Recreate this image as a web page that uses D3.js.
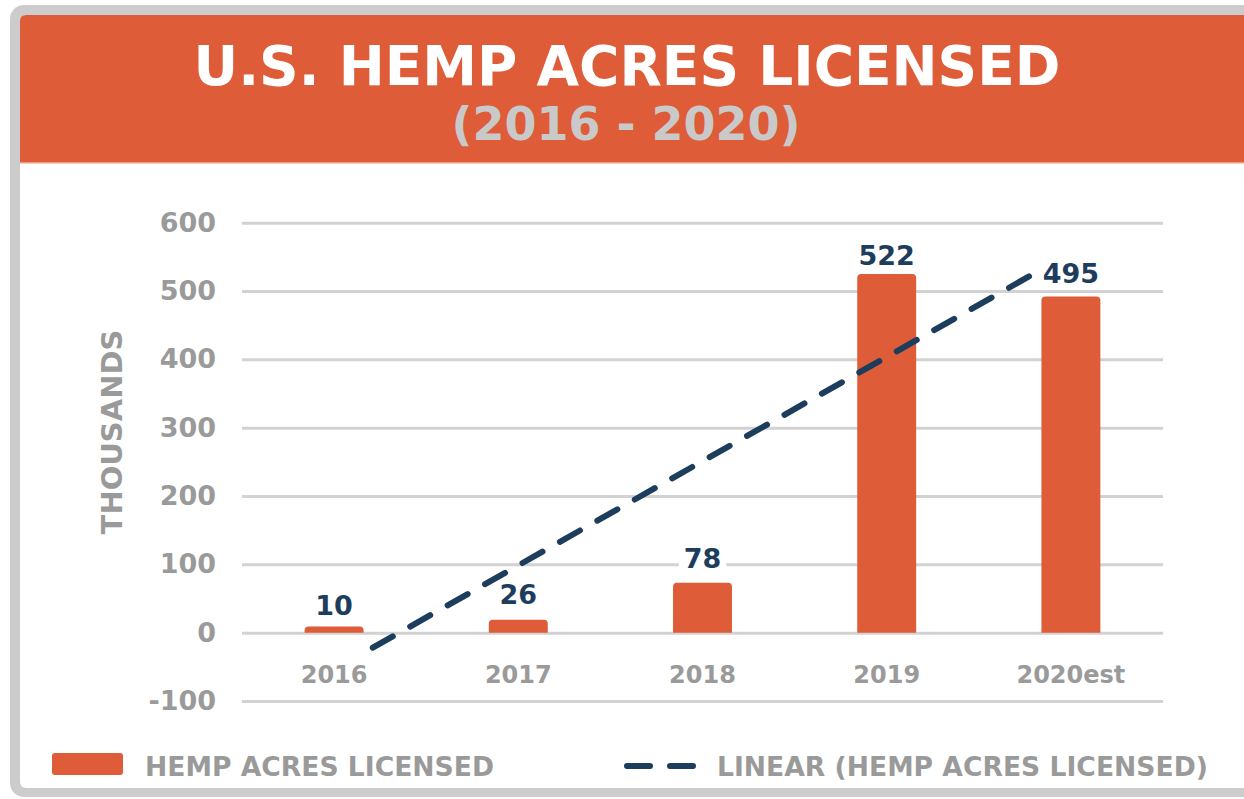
<!DOCTYPE html>
<html>
<head>
<meta charset="utf-8">
<script src="https://cdn.jsdelivr.net/npm/d3@7"></script>
<style>
  html, body { margin: 0; padding: 0; background: #ffffff; }
  svg { display: block; }
  text { font-family: "DejaVu Sans", sans-serif; font-weight: bold; }
</style>
</head>
<body>
<svg id="chart" width="1244" height="799"></svg>
<script>
// ---- data ----
const categories = ["2016", "2017", "2018", "2019", "2020est"];
const barValues = [9, 19, 73, 525, 492];            // bar heights (thousands)
const labelTexts = ["10", "26", "78", "522", "495"]; // printed data labels
const labelValues = [10, 26, 78, 522, 495];
const yTicks = [-100, 0, 100, 200, 300, 400, 500, 600];
const trendX = [0.21, 3.79];   // category index positions of trend line ends
const trendY = [-22, 524];     // trend line values at those positions
const titleText = "U.S. HEMP ACRES LICENSED";
const subtitleText = "(2016 - 2020)";
const yAxisTitle = "THOUSANDS";
const legendBar = "HEMP ACRES LICENSED";
const legendLine = "LINEAR (HEMP ACRES LICENSED)";

// ---- styles ----
const ORANGE = "#de5c37";
const NAVY = "#1d3d5c";
const GREY_TXT = "#9a9a9a";
const GRID = "#d2d2d2";

const svg = d3.select("#chart");

// frame
svg.append("rect").attr("x", 10).attr("y", 5).attr("width", 1260).attr("height", 792)
  .attr("rx", 14).attr("fill", "#cccccc");
svg.append("rect").attr("x", 20).attr("y", 15).attr("width", 1250).attr("height", 773)
  .attr("rx", 6).attr("fill", "#ffffff");
// header band
svg.append("path")
  .attr("d", "M20,163 L20,21 Q20,15 26,15 L1270,15 L1270,163 Z")
  .attr("fill", ORANGE);
svg.append("rect").attr("x", 20).attr("y", 162).attr("width", 1250).attr("height", 1.5)
  .attr("fill", "#ee9a80");

svg.append("text").attr("x", 627).attr("y", 85).attr("text-anchor", "middle")
  .attr("fill", "#ffffff").style("font-size", "55px").text(titleText);
svg.append("text").attr("x", 626).attr("y", 140).attr("text-anchor", "middle")
  .attr("fill", "#c9c9c9").style("font-size", "46px").text(subtitleText);

// ---- scales ----
const plotLeft = 242, plotRight = 1163;
const y = d3.scaleLinear().domain([-100, 600]).range([701, 222.7]);
const x = d3.scaleBand().domain(categories).range([plotLeft, plotRight])
  .paddingInner(0.68).paddingOuter(0.34);
const xIdx = d3.scaleLinear().domain([0, categories.length - 1])
  .range([x(categories[0]) + x.bandwidth() / 2,
          x(categories[categories.length - 1]) + x.bandwidth() / 2]);

// ---- y axis with gridlines ----
const yAxis = d3.axisLeft(y).tickValues(yTicks).tickSize(-(plotRight - plotLeft))
  .tickPadding(26).tickFormat(d => String(d));
const gy = svg.append("g").attr("transform", `translate(${plotLeft},0)`).call(yAxis);
gy.select(".domain").remove();
gy.selectAll(".tick line").attr("stroke", GRID).attr("stroke-width", 3);
gy.selectAll(".tick text").attr("fill", GREY_TXT)
  .style("font-size", "27px").style("font-family", "'DejaVu Sans', sans-serif")
  .style("font-weight", "bold");

// y axis title
svg.append("text").attr("transform", "translate(122,432) rotate(-90)")
  .attr("text-anchor", "middle").attr("fill", GREY_TXT).style("font-size", "29px")
  .text(yAxisTitle);

// ---- x labels ----
svg.append("g").selectAll("text").data(categories).join("text")
  .attr("x", d => x(d) + x.bandwidth() / 2).attr("y", 683)
  .attr("text-anchor", "middle").attr("fill", GREY_TXT).style("font-size", "24px")
  .text(d => d);

// ---- bars ----
const r = 4;
function barPath(d, i) {
  const x0 = x(categories[i]), w = x.bandwidth();
  const yt = y(d), yb = y(0);
  const rr = Math.min(r, (yb - yt));
  return `M${x0},${yb} L${x0},${yt + rr} Q${x0},${yt} ${x0 + rr},${yt} ` +
         `L${x0 + w - rr},${yt} Q${x0 + w},${yt} ${x0 + w},${yt + rr} L${x0 + w},${yb} Z`;
}
svg.append("g").selectAll("path").data(barValues).join("path")
  .attr("d", (d, i) => barPath(d, i)).attr("fill", ORANGE);

// ---- data labels ----
const lbl = svg.append("g").selectAll("g").data(labelValues).join("g")
  .attr("transform", (d, i) =>
    `translate(${x(categories[i]) + x.bandwidth() / 2},${y(d) - 11})`);
lbl.append("rect")
  .attr("x", (d, i) => -labelTexts[i].length * 9.4 - 5).attr("y", -22)
  .attr("width", (d, i) => labelTexts[i].length * 18.8 + 10).attr("height", 26)
  .attr("fill", "#ffffff");
lbl.append("text").attr("text-anchor", "middle").attr("fill", NAVY)
  .style("font-size", "27px").text((d, i) => labelTexts[i]);

// ---- trend line ----
const trend = trendX.map((v, i) => [xIdx(v), y(trendY[i])]);
svg.append("path").attr("d", d3.line()(trend))
  .attr("fill", "none").attr("stroke", NAVY).attr("stroke-width", 6)
  .attr("stroke-linecap", "round").attr("stroke-dasharray", "23,20");

// ---- legend ----
svg.append("rect").attr("x", 52).attr("y", 753).attr("width", 71).attr("height", 22)
  .attr("rx", 3).attr("fill", ORANGE);
svg.append("text").attr("x", 145).attr("y", 776).attr("fill", GREY_TXT)
  .style("font-size", "26.6px").text(legendBar);
svg.append("path").attr("d", d3.line()([[627, 766], [693, 766]]))
  .attr("stroke", NAVY).attr("stroke-width", 6).attr("stroke-linecap", "round")
  .attr("stroke-dasharray", "23,20").attr("fill", "none");
svg.append("text").attr("x", 717).attr("y", 776).attr("fill", GREY_TXT)
  .style("font-size", "26.6px").text(legendLine);
</script>
</body>
</html>
